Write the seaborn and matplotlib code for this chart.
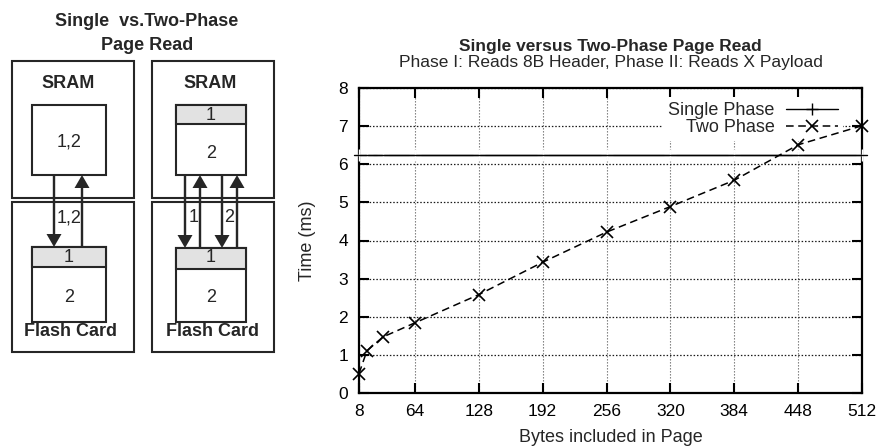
import matplotlib
matplotlib.use("Agg")
import matplotlib.pyplot as plt
import seaborn as sns
import pandas as pd
from matplotlib.patches import Rectangle, FancyArrow
from matplotlib.lines import Line2D

# ---------------- data ----------------
bytes_x = [8, 16, 32, 64, 128, 192, 256, 320, 384, 448, 512]
two_phase = [0.51, 1.11, 1.47, 1.84, 2.58, 3.43, 4.22, 4.89, 5.58, 6.51, 7.01]
single_phase = [6.25, 6.25, 6.25, 6.25, 6.25, 6.25, 6.25, 6.25, 6.25, 6.25, 6.25]
x_ticks = [8, 64, 128, 192, 256, 320, 384, 448, 512]
y_ticks = [0, 1, 2, 3, 4, 5, 6, 7, 8]
series_names = ["Single Phase", "Two Phase"]

chart_title = "Single versus Two-Phase Page Read"
chart_subtitle = "Phase I: Reads 8B Header, Phase II: Reads X Payload"
x_label = "Bytes included in Page"
y_label = "Time (ms)"

diagram_title = ["Single  vs.Two-Phase", "Page Read"]

sns.set_style("ticks")
plt.rcParams["font.family"] = ["Liberation Sans", "DejaVu Sans"]

W, H = 878, 447
fig = plt.figure(figsize=(W / 100, H / 100), dpi=100)

# ---------------- diagram (pixel-coordinate overlay) ----------------
dax = fig.add_axes([0, 0, 1, 1])
dax.set_xlim(0, W)
dax.set_ylim(H, 0)
dax.axis("off")
ink = "#262626"
gray = "#e2e2e2"
blw = 1.5
dfs = 13

def box(x0, y0, x1, y1, fc="white", lw=blw):
    dax.add_patch(Rectangle((x0, y0), x1 - x0, y1 - y0, fc=fc, ec=ink, lw=lw))

def arrow(x, y0, y1):
    dax.add_patch(FancyArrow(x, y0, 0, y1 - y0, width=2.4, head_width=15,
                             head_length=13, length_includes_head=True,
                             fc=ink, ec=ink, lw=0))

dax.text(147, 21, diagram_title[0], ha="center", va="center",
         fontsize=dfs, fontweight="bold", color=ink)
dax.text(147, 46, diagram_title[1], ha="center", va="center",
         fontsize=dfs, fontweight="bold", color=ink)

for (ox, cx) in [(12, 69), (152, 211)]:
    box(ox, 61, ox + 122, 198)
    box(ox, 202, ox + 122, 352)
    dax.text(cx - 1, 83, "SRAM", ha="center", va="center", fontsize=dfs,
             fontweight="bold", color=ink)
    dax.text(cx + 2, 331, "Flash Card", ha="center", va="center",
             fontsize=dfs, fontweight="bold", color=ink)

# left column (single phase)
box(32, 105, 106, 175)
dax.text(69, 142, "1,2", ha="center", va="center", fontsize=dfs, color=ink)
box(32, 247, 106, 322)
box(32, 247, 106, 267, fc=gray)
dax.text(69, 257, "1", ha="center", va="center", fontsize=dfs, color=ink)
dax.text(69, 297, "2", ha="center", va="center", fontsize=dfs, color=ink)
arrow(54, 175, 247)
arrow(82, 247, 175)
dax.text(69, 218, "1,2", ha="center", va="center", fontsize=dfs, color=ink)

# right column (two phase)
box(176, 105, 246, 175)
box(176, 105, 246, 124, fc=gray)
dax.text(211, 115, "1", ha="center", va="center", fontsize=dfs, color=ink)
dax.text(211, 154, "2", ha="center", va="center", fontsize=dfs, color=ink)
box(176, 248, 246, 322)
box(176, 248, 246, 269, fc=gray)
dax.text(211, 258, "1", ha="center", va="center", fontsize=dfs, color=ink)
dax.text(211, 297, "2", ha="center", va="center", fontsize=dfs, color=ink)
arrow(185, 175, 248)
arrow(200, 248, 175)
arrow(222, 175, 248)
arrow(237, 248, 175)
dax.text(194, 218, "1", ha="center", va="center", fontsize=dfs, color=ink)
dax.text(229, 218, "2", ha="center", va="center", fontsize=dfs, color=ink)

# ---------------- line chart ----------------
L, R, T, B = 359, 862, 88, 393
ax = fig.add_axes([L / W, 1 - B / H, (R - L) / W, (B - T) / H])

df = pd.DataFrame({"bytes": bytes_x, "single": single_phase, "two": two_phase})

sns.lineplot(data=df, x="bytes", y="single", ax=ax, color="black", lw=1.0,
             marker="+", markersize=8, markeredgewidth=1.0, legend=False,
             clip_on=False, zorder=6)
ax.axhline(single_phase[0], xmin=-0.01, xmax=1.01, color="black", lw=1.0,
           clip_on=False, zorder=6)
sns.lineplot(data=df, x="bytes", y="two", ax=ax, color="black", lw=1.1,
             dashes=False, linestyle=(0, (5, 3)), marker="x", markersize=8,
             markeredgewidth=1.2, markeredgecolor="black", legend=False,
             clip_on=False, zorder=7)

ax.set_xlim(8, 512)
ax.set_ylim(0, 8)
ax.set_xticks(x_ticks)
ax.set_yticks(y_ticks)
ax.tick_params(direction="in", length=7, width=1.5, top=True, right=True,
               labelsize=12.5, pad=8, colors="black")
for s in ax.spines.values():
    s.set_linewidth(1.6)
    s.set_color("black")

ax.yaxis.grid(True, color="#1a1a1a", ls=(0, (1.2, 1.5)), lw=0.9)
ax.xaxis.grid(True, color="#707070", ls=(0, (1.2, 1.5)), lw=0.8)
ax.set_axisbelow(True)

ax.set_xlabel(x_label, fontsize=13, labelpad=7)
ax.set_ylabel(y_label, fontsize=13)
ax.yaxis.set_label_coords(-0.085, 0.5)

handles = [
    Line2D([], [], color="black", lw=1.0, marker="+", markersize=8,
           markeredgewidth=1.0),
    Line2D([], [], color="black", lw=1.1, ls=(0, (5, 3)), marker="x",
           markersize=8, markeredgewidth=1.2),
]
leg = ax.legend(handles, series_names, loc="upper right",
                bbox_to_anchor=(1 - 14 / (R - L), 1 - 4 / (B - T)),
                markerfirst=False,
                fontsize=13, frameon=True, fancybox=False, framealpha=1,
                edgecolor="none", facecolor="white", handlelength=2.9,
                handletextpad=0.6, borderpad=0.3, labelspacing=0.0,
                borderaxespad=0.25)
leg.set_zorder(5)

cx = (L + R) / 2
fig.text(cx / W, 1 - 47 / H, chart_title, ha="center", va="center",
         fontsize=12.5, fontweight="bold")
fig.text(cx / W, 1 - 63 / H, chart_subtitle, ha="center", va="center",
         fontsize=12.5)

fig.savefig("out.png", dpi=100)
